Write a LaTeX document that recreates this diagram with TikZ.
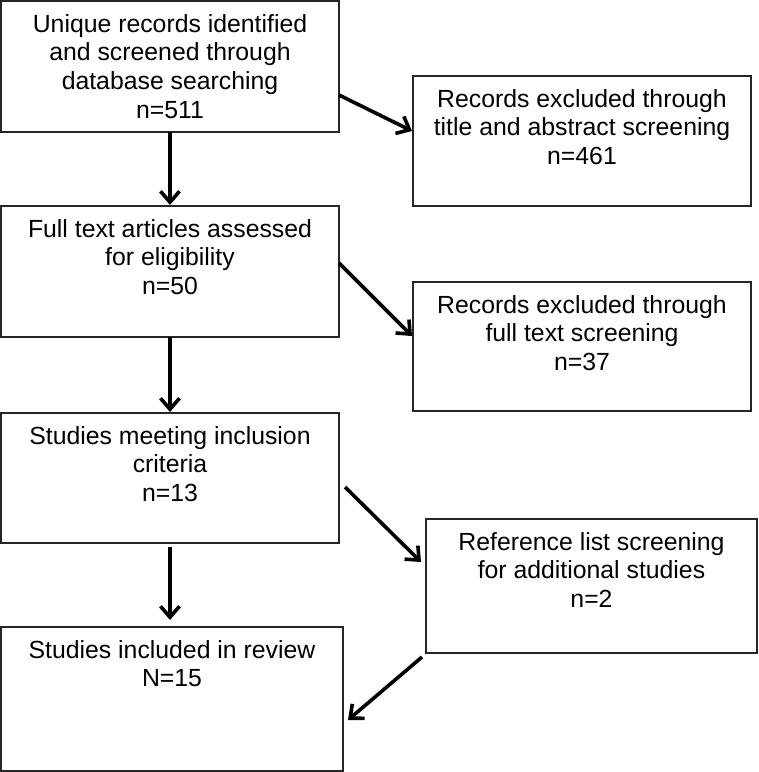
\documentclass[tikz,border=0pt]{standalone}
\usepackage{fontspec}
\setmainfont{Liberation Sans}
\usetikzlibrary{arrows.meta}
\begin{document}
\begin{tikzpicture}[x=1pt,y=-1pt,
  box/.style={draw=black!85, line width=1.5pt, inner sep=0pt, outer sep=0pt, anchor=north west},
  txt/.style={anchor=north, inner sep=0pt, align=center, font=\fontsize{24.8}{28.7}\selectfont},
  arr/.style={line width=3.6pt, -{Straight Barb[length=11pt,width=19pt,line width=3.6pt]}}]
\useasboundingbox (0,0) rectangle (759,772);
% boxes
\node[box, minimum width=338pt, minimum height=131pt] (b1) at (1,1) {};
\node[box, minimum width=338pt, minimum height=130pt] (r1) at (413,76) {};
\node[box, minimum width=338pt, minimum height=131pt] (b2) at (1,206) {};
\node[box, minimum width=338pt, minimum height=129pt] (r2) at (413,282) {};
\node[box, minimum width=338pt, minimum height=130pt] (b3) at (1,413) {};
\node[box, minimum width=331pt, minimum height=134pt] (r3) at (426,519) {};
\node[box, minimum width=342pt, minimum height=144pt] (b4) at (1,627) {};
% texts
\node[txt] (t1) at ([yshift=-13pt]b1.north) {Unique records identified\\and screened through\\database searching\\n=511};
\node[txt] (tr1) at ([yshift=-13pt]r1.north) {Records excluded through\\title and abstract screening\\n=461};
\node[txt] (t2) at ([yshift=-13pt]b2.north) {Full text articles assessed\\for eligibility\\n=50};
\node[txt] (tr2) at ([yshift=-13pt]r2.north) {Records excluded through\\full text screening\\n=37};
\node[txt] (t3) at ([yshift=-13pt]b3.north) {Studies meeting inclusion\\criteria\\n=13};
\node[txt] (tr3) at ([yshift=-13pt]r3.north) {Reference list screening\\for additional studies\\n=2};
\node[txt] (t4) at ([yshift=-13pt]b4.north) {Studies included in review\\N=15};
% connector end points
\coordinate (d1s) at (339,95);  \coordinate (d1e) at (412,131);
\coordinate (d2s) at (339,263); \coordinate (d2e) at (412,336);
\coordinate (d3s) at (345,487); \coordinate (d3e) at (421,562);
\coordinate (d4s) at (422,657); \coordinate (d4e) at (348,720);
\coordinate (v3s) at (170,547); \coordinate (v3e) at (170,620);
% connectors
\draw[arr] (b1.south) -- ([yshift=1pt]b2.north);
\draw[arr] (b2.south) -- ([yshift=1pt]b3.north);
\draw[arr] (v3s) -- (v3e);
\draw[arr] (d1s) -- (d1e);
\draw[arr] (d2s) -- (d2e);
\draw[arr] (d3s) -- (d3e);
\draw[arr] (d4s) -- (d4e);
\end{tikzpicture}
\end{document}
